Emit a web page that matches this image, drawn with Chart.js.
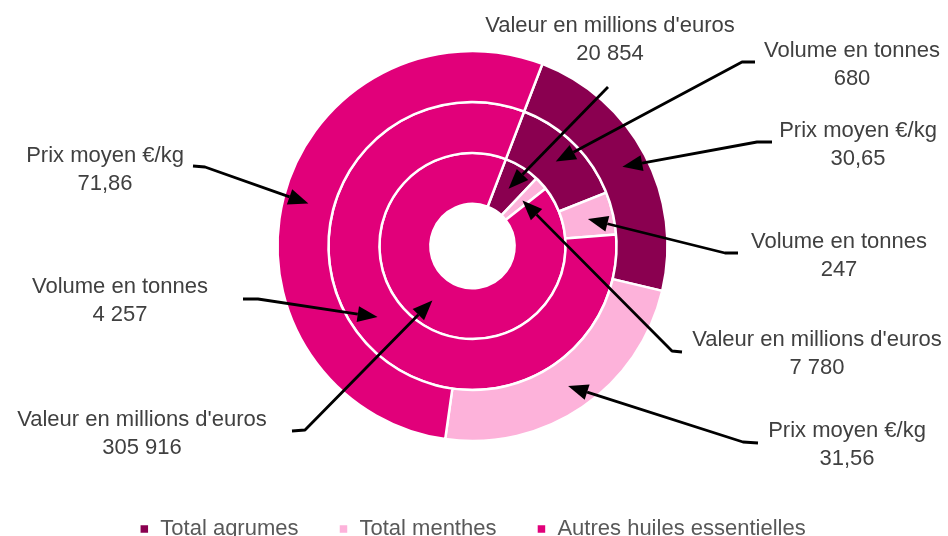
<!DOCTYPE html>
<html>
<head>
<meta charset="utf-8">
<script src="https://cdn.jsdelivr.net/npm/chart.js@4/dist/chart.umd.min.js"></script>
<style>
  html, body { margin: 0; padding: 0; background: #fff; }
  #wrap { width: 948px; height: 536px; }
</style>
</head>
<body>
<div id="wrap"><canvas id="donutChart" width="948" height="536"></canvas></div>
<script>
// categories (legend) and the three rings, outer -> inner
var categories = ['Total agrumes', 'Total menthes', 'Autres huiles essentielles'];
var ringNames = ['Prix moyen €/kg', 'Volume en tonnes', "Valeur en millions d'euros"];
var prixMoyen = [30.65, 31.56, 71.86];
var volumeTonnes = [680, 247, 4257];
var valeurMillions = [20854, 7780, 305916];
var couleurs = ['#8A0050', '#FDB2DA', '#E1007A'];

// where each callout text sits: [ring][category] -> center x, baseline y, tail, elbow
var callouts = [
    [
        { x: 858, y: 137, tail: [772, 142], elbow: [757, 142] },
        { x: 847, y: 437, tail: [758, 443], elbow: [743, 442] },
        { x: 105, y: 162, tail: [193, 166], elbow: [205, 167] }
    ],
    [
        { x: 852, y: 57, tail: [755, 62], elbow: [742, 62] },
        { x: 839, y: 248, tail: [738, 253], elbow: [725, 253] },
        { x: 120, y: 293, tail: [243, 299], elbow: [258, 299] }
    ],
    [
        { x: 610, y: 32, tail: [608, 87], elbow: null },
        { x: 817, y: 346, tail: [682, 352], elbow: [672, 351] },
        { x: 142, y: 426, tail: [292, 431], elbow: [305, 430] }
    ]
];

function formatFr(n) {
    if (Number.isInteger(n)) {
        return String(n).replace(/\B(?=(\d{3})+(?!\d))/g, ' ');
    }
    return n.toFixed(2).replace('.', ',');
}

var calloutPlugin = {
    id: 'callouts',
    afterDraw: function (chart) {
        var ctx = chart.ctx;
        ctx.save();
        chart.data.datasets.forEach(function (ds, di) {
            var meta = chart.getDatasetMeta(di);
            meta.data.forEach(function (arc, i) {
                var c = callouts[di][i];
                var tip = arc.tooltipPosition();

                // text
                ctx.fillStyle = '#404040';
                ctx.font = '22px "Liberation Sans", Arial, sans-serif';
                ctx.textAlign = 'center';
                ctx.textBaseline = 'alphabetic';
                ctx.fillText(ds.label, c.x, c.y);
                ctx.fillText(formatFr(ds.data[i]), c.x, c.y + 28);

                // leader line with arrow head
                var from = c.elbow || c.tail;
                var dx = tip.x - from[0], dy = tip.y - from[1];
                var len = Math.sqrt(dx * dx + dy * dy);
                var ux = dx / len, uy = dy / len;
                var headLen = 20, headHalf = 8;
                var bx = tip.x - ux * headLen, by = tip.y - uy * headLen;

                ctx.strokeStyle = '#000';
                ctx.lineWidth = 2.8;
                ctx.lineJoin = 'round';
                ctx.beginPath();
                ctx.moveTo(c.tail[0], c.tail[1]);
                if (c.elbow) ctx.lineTo(c.elbow[0], c.elbow[1]);
                ctx.lineTo(bx, by);
                ctx.stroke();

                ctx.fillStyle = '#000';
                ctx.beginPath();
                ctx.moveTo(tip.x, tip.y);
                ctx.lineTo(bx - uy * headHalf, by + ux * headHalf);
                ctx.lineTo(bx + uy * headHalf, by - ux * headHalf);
                ctx.closePath();
                ctx.fill();
            });
        });
        ctx.restore();
    }
};

var ctx = document.getElementById('donutChart').getContext('2d');

new Chart(ctx, {
    type: 'doughnut',
    data: {
        labels: categories,
        datasets: [
            { label: ringNames[0], data: prixMoyen, backgroundColor: couleurs },
            { label: ringNames[1], data: volumeTonnes, backgroundColor: couleurs },
            { label: ringNames[2], data: valeurMillions, backgroundColor: couleurs }
        ]
    },
    options: {
        responsive: false,
        animation: false,
        events: [],
        rotation: 21,
        radius: 195,
        cutout: '21.6%',
        borderColor: '#ffffff',
        borderWidth: 2.5,
        layout: {
            padding: { top: 14, bottom: -14, left: 0, right: 3 }
        },
        plugins: {
            tooltip: { enabled: false },
            legend: {
                position: 'bottom',
                labels: {
                    boxWidth: 10,
                    boxHeight: 10,
                    padding: 40,
                    color: '#595959',
                    font: { family: '"Liberation Sans", Arial, sans-serif', size: 22 }
                }
            }
        }
    },
    plugins: [calloutPlugin]
});
</script>
</body>
</html>
